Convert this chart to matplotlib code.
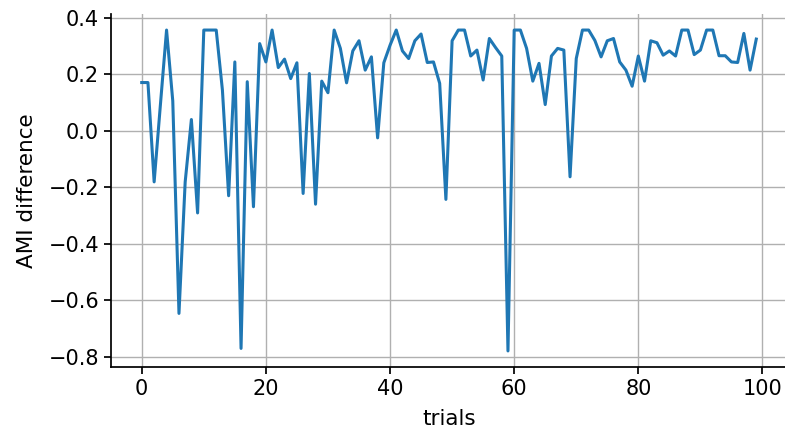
import numpy as np
import matplotlib
matplotlib.use("Agg")
import matplotlib.pyplot as plt

# AMI difference per trial
trials = np.arange(100)
ami_diff = [
    0.171, 0.171, -0.181, 0.090, 0.357, 0.106, -0.647, -0.181, 0.040, -0.291,
    0.357, 0.357, 0.357, 0.144, -0.230, 0.244, -0.771, 0.174, -0.269, 0.309,
    0.244, 0.357, 0.224, 0.254, 0.185, 0.241, -0.222, 0.203, -0.260, 0.176,
    0.135, 0.357, 0.292, 0.170, 0.283, 0.319, 0.215, 0.262, -0.025, 0.241,
    0.303, 0.357, 0.283, 0.256, 0.319, 0.343, 0.242, 0.244, 0.168, -0.243,
    0.319, 0.357, 0.357, 0.265, 0.286, 0.180, 0.327, 0.295, 0.265, -0.780,
    0.357, 0.357, 0.292, 0.176, 0.239, 0.093, 0.265, 0.292, 0.286, -0.163,
    0.256, 0.357, 0.357, 0.320, 0.262, 0.319, 0.327, 0.244, 0.215, 0.158,
    0.265, 0.176, 0.319, 0.312, 0.268, 0.283, 0.265, 0.357, 0.357, 0.270,
    0.286, 0.357, 0.357, 0.266, 0.266, 0.244, 0.242, 0.345, 0.215, 0.325,
]

plt.rcParams['font.size'] = 15
plt.rcParams['axes.linewidth'] = 1.25

fig = plt.figure(figsize=(7.85, 4.32), dpi=100)
ax = fig.add_axes([111 / 785, 65 / 432, 676 / 785, 353 / 432])
ax.plot(trials, ami_diff, color='#1f77b4', linewidth=2.2)

ax.grid(True, color='#b0b0b0', linewidth=1.0)
ax.set_axisbelow(True)
ax.spines['top'].set_visible(False)
ax.spines['right'].set_visible(False)
ax.tick_params(length=5, width=1.25, labelsize=15)
ax.set_xticks([0, 20, 40, 60, 80, 100])
ax.set_yticks([-0.8, -0.6, -0.4, -0.2, 0.0, 0.2, 0.4])

ax.set_xlabel('trials', fontsize=15.5, labelpad=7)
ax.set_ylabel('AMI difference', fontsize=15.5, labelpad=8)

fig.savefig('out.png', dpi=100)
